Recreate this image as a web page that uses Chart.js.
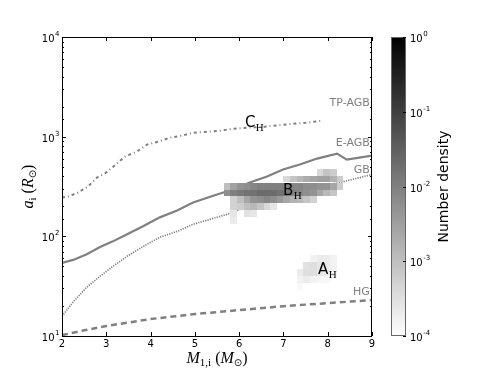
<!DOCTYPE html>
<html>
<head>
<meta charset="utf-8">
<script src="https://cdn.jsdelivr.net/npm/chart.js@4.4.0/dist/chart.umd.min.js"></script>
<style>body{margin:0;background:#fff}</style>
</head>
<body>
<canvas id="c" width="499" height="374"></canvas>
<script>
// boundary curves, mass (Msun) vs initial separation (Rsun)
const tpagbMass=[2.0,2.14,2.36,2.59,2.79,3.0,3.24,3.42,3.69,3.92,4.17,4.44,4.71,4.96,5.27,5.57,5.86,6.2,6.58,7.0,7.5,7.87];
const tpagbSep=[245,251,275,316,389,437,537,631,708,832,891,977,1023,1096,1122,1148,1202,1230,1259,1318,1380,1445];
const eagbMass=[2.0,2.25,2.56,2.86,3.15,3.47,3.83,4.21,4.6,4.96,5.5,5.86,6.24,6.63,6.99,7.37,7.76,8.21,8.43,9.0];
const eagbSep=[54,58,66,78,89,105,126,155,182,219,263,295,347,398,468,525,603,676,589,646];
const gbMass=[2.0,2.25,2.56,2.86,3.15,3.47,3.83,4.21,4.6,4.96,5.34,5.72,6.02,6.4,7.0,7.6,8.28,9.0];
const gbSep=[15.8,21.9,30.9,39.8,50,63,79,98,112,132,148,166,186,214,257,302,347,417];
const hgMass=[2.0,2.5,3.0,4.0,5.0,6.0,7.0,8.0,9.0];
const hgSep=[10.2,11.4,12.6,14.8,16.6,18.2,19.9,21.4,22.9];

// number density map: one row per separation bin (lower edge, Rsun),
// first mass bin (lower edge, Msun), then densities of consecutive mass bins
const heatRowSep=[407,347,295,251,214,182,155,132,55,46.8,39.8,33.9,28.8];
const heatRowMass=[7.75,7.00,5.65,5.65,5.80,5.80,5.80,5.80,7.60,7.45,7.30,7.30,7.30];
const heatRowDensity=[
  [4e-4,8e-4,6e-4],
  [4e-4,8e-4,1.3e-3,2e-3,2.5e-3,3e-3,3e-3,1.6e-3,6e-4],
  [1e-3,3e-3,5e-3,6e-3,8e-3,1e-2,1e-2,1e-2,1e-2,1e-2,8e-3,8e-3,6e-3,6e-3,5e-3,5e-3,2.5e-3,6e-4],
  [6e-3,1e-2,1.3e-2,1.6e-2,1.6e-2,2e-2,2e-2,2e-2,1.6e-2,1.3e-2,1e-2,8e-3,6e-3,5e-3,2.5e-3,1.3e-3,8e-4],
  [5e-4,1e-3,2.5e-3,5e-3,6e-3,8e-3,6e-3,4e-3,2.5e-3,1.6e-3,1.3e-3,8e-4,5e-4],
  [5e-4,6e-4,1e-3,1.3e-3,8e-4,4e-4,2.5e-4],
  [2.5e-4,0,3e-4,2.5e-4],
  [2e-4],
  [1.6e-4,2e-4,2e-4,1.6e-4],
  [3e-4,3.2e-4,2.5e-4,2e-4,1.6e-4],
  [2e-4,3.2e-4,3.2e-4,2.5e-4,2e-4,1.6e-4],
  [1.6e-4,2e-4,1.6e-4,1.3e-4,1.3e-4],
  [1.3e-4]
];
const binMass=0.15, binSepDex=0.07;

const yTickValues=[10,100,1000,10000];
const yTickExp=['1','2','3','4'];
const cbTickValues=[1e-4,1e-3,1e-2,1e-1,1];
const cbTickExp=['-4','-3','-2','-1','0'];

// curve labels and region labels (data coordinates)
const curveNames=['TP-AGB','E-AGB','GB','HG'];
const curveLabelSep=[2188,871,457,27.5];
const regionNames=['C','B','A'];
const regionMass=[6.13,6.99,7.78];
const regionSep=[1413,295,47];

const lineGray='#808080';
const sans='"DejaVu Sans", sans-serif';
const serif='"Liberation Serif", "DejaVu Serif", serif';

const grayFor=d=>{
  let t=(Math.log10(d)+4)/4;
  t=Math.max(0,Math.min(1,t));
  const g=Math.round(255*(1-t));
  return `rgb(${g},${g},${g})`;
};

const pts=(xs,ys)=>xs.map((m,i)=>({x:m,y:ys[i]}));

const drawRich=(ctx,x,y,parts)=>{
  let w=0;
  parts.forEach(p=>{ctx.font=p.f;w+=ctx.measureText(p.t).width;});
  let cx=x-w/2;
  ctx.textAlign='left';ctx.textBaseline='alphabetic';
  parts.forEach(p=>{ctx.font=p.f;ctx.fillText(p.t,cx,y+(p.dy||0));cx+=ctx.measureText(p.t).width;});
};

// "10" with a raised exponent; align 'right' ends at x, 'left' starts at x
const drawPow=(ctx,x,y,exp,align)=>{
  ctx.textBaseline='alphabetic';ctx.textAlign='left';
  ctx.font='10px '+sans;
  const w1=ctx.measureText('10').width;
  ctx.font='7px '+sans;
  const w2=ctx.measureText(exp).width;
  const x0=align==='right'?x-w1-w2:x;
  ctx.font='10px '+sans;ctx.fillText('10',x0,y+5);
  ctx.font='7px '+sans;ctx.fillText(exp,x0+w1+0.5,y-1);
};

const heatPlugin={
  id:'heat',
  afterDatasetsDraw(chart){
    const {ctx,chartArea:a,scales:{x,y}}=chart;
    ctx.save();
    ctx.beginPath();ctx.rect(a.left,a.top,a.right-a.left,a.bottom-a.top);ctx.clip();
    heatRowSep.forEach((s,r)=>{
      const yb=Math.round(y.getPixelForValue(s));
      const yt=Math.round(y.getPixelForValue(s*Math.pow(10,binSepDex)));
      heatRowDensity[r].forEach((d,k)=>{
        if(!d) return;
        const m=heatRowMass[r]+k*binMass;
        const xl=Math.round(x.getPixelForValue(m));
        const xr=Math.round(x.getPixelForValue(m+binMass));
        ctx.fillStyle=grayFor(d);
        ctx.fillRect(xl,yt,xr-xl,yb-yt);
      });
    });
    // region labels
    ctx.fillStyle='#000';
    regionNames.forEach((n,i)=>{
      const px=x.getPixelForValue(regionMass[i]);
      const py=y.getPixelForValue(regionSep[i]);
      ctx.font='15px '+sans;ctx.textAlign='left';ctx.textBaseline='alphabetic';
      ctx.fillText(n,px,py+5);
      const w=ctx.measureText(n).width;
      ctx.font='11px '+serif;
      ctx.fillText('H',px+w+0.5,py+9);
    });
    // curve labels
    ctx.fillStyle=lineGray;ctx.font='11px '+sans;ctx.textAlign='right';ctx.textBaseline='middle';
    curveNames.forEach((n,i)=>{
      ctx.fillText(n,x.getPixelForValue(8.95),y.getPixelForValue(curveLabelSep[i]));
    });
    ctx.restore();
  },
  afterDraw(chart){
    const {ctx,chartArea:a,scales:{x,y,cb}}=chart;
    ctx.save();
    // frame
    ctx.strokeStyle='#000';ctx.lineWidth=1;
    ctx.strokeRect(a.left+0.5,a.top+0.5,a.right-a.left-1,a.bottom-a.top);
    // inner ticks
    ctx.beginPath();
    x.ticks.forEach(t=>{
      const px=Math.round(x.getPixelForValue(t.value))+0.5;
      ctx.moveTo(px,a.bottom);ctx.lineTo(px,a.bottom-4);
      ctx.moveTo(px,a.top);ctx.lineTo(px,a.top+4);
    });
    y.ticks.forEach(t=>{
      const l=Math.log10(t.value);
      const len=Math.abs(l-Math.round(l))<1e-6?4:2;
      const py=Math.round(y.getPixelForValue(t.value))+0.5;
      ctx.moveTo(a.left,py);ctx.lineTo(a.left+len,py);
      ctx.moveTo(a.right,py);ctx.lineTo(a.right-len,py);
    });
    ctx.stroke();
    ctx.fillStyle='#000';
    yTickValues.forEach((v,i)=>drawPow(ctx,a.left-3,y.getPixelForValue(v),yTickExp[i],'right'));
    // colour bar
    const cbL=391,cbR=406;
    const top=cb.getPixelForValue(1),bot=cb.getPixelForValue(1e-4);
    const g=ctx.createLinearGradient(0,top,0,bot);
    g.addColorStop(0,'#000');g.addColorStop(1,'#fff');
    ctx.fillStyle=g;ctx.fillRect(cbL,top,cbR-cbL,bot-top);
    ctx.strokeStyle='#666';ctx.strokeRect(cbL+0.5,top+0.5,cbR-cbL-1,bot-top-1);
    ctx.strokeStyle='#000';ctx.beginPath();
    cbTickValues.forEach(v=>{
      const py=Math.round(cb.getPixelForValue(v))+0.5;
      ctx.moveTo(cbR,py);ctx.lineTo(cbR-3,py);
    });
    ctx.stroke();
    ctx.fillStyle='#000';
    cbTickValues.forEach((v,i)=>drawPow(ctx,cbR+4,cb.getPixelForValue(v),cbTickExp[i],'left'));
    ctx.save();
    ctx.translate(448,(top+bot)/2);ctx.rotate(-Math.PI/2);
    ctx.font='14px '+sans;ctx.textAlign='center';ctx.textBaseline='alphabetic';
    ctx.fillText('Number density',0,0);
    ctx.restore();
    // axis titles
    drawRich(ctx,(a.left+a.right)/2,363,[
      {t:'M',f:'italic 16px '+serif},
      {t:'1,i',f:'11px '+serif,dy:3},
      {t:' (',f:'16px '+serif},
      {t:'M',f:'italic 16px '+serif},
      {t:'⊙',f:'10px "DejaVu Sans"',dy:3},
      {t:')',f:'16px '+serif}
    ]);
    ctx.save();
    ctx.translate(33,(a.top+a.bottom)/2);ctx.rotate(-Math.PI/2);
    drawRich(ctx,0,0,[
      {t:'a',f:'italic 16px '+serif},
      {t:'i',f:'11px '+serif,dy:3},
      {t:' (',f:'16px '+serif},
      {t:'R',f:'italic 16px '+serif},
      {t:'⊙',f:'10px "DejaVu Sans"',dy:3},
      {t:')',f:'16px '+serif}
    ]);
    ctx.restore();
    ctx.restore();
  }
};

const lineSet=(data,dash,w)=>({
  data,showLine:true,borderColor:lineGray,borderWidth:w,borderDash:dash,
  pointRadius:0,fill:false,tension:0
});

new Chart(document.getElementById('c'),{
  type:'scatter',
  data:{datasets:[
    lineSet(pts(tpagbMass,tpagbSep),[3,3,1,3],2),
    lineSet(pts(eagbMass,eagbSep),[],2.2),
    lineSet(pts(gbMass,gbSep),[1.2,1.2],1.7),
    lineSet(pts(hgMass,hgSep),[6,4],2.5)
  ]},
  options:{
    responsive:false,animation:false,
    layout:{padding:{top:37,left:0,right:0,bottom:0}},
    plugins:{legend:{display:false},tooltip:{enabled:false}},
    scales:{
      x:{type:'linear',min:2,max:9,
        grid:{display:false,drawTicks:false,tickLength:0},border:{display:false},
        ticks:{stepSize:1,padding:2,color:'#000',font:{family:'DejaVu Sans',size:10}},
        afterFit:s=>{s.height=38;}},
      y:{type:'logarithmic',min:10,max:10000,
        grid:{display:false,drawTicks:false,tickLength:0},border:{display:false},
        ticks:{display:false},
        afterFit:s=>{s.width=62;}},
      cb:{axis:'y',type:'logarithmic',position:'right',min:1e-4,max:1,
        grid:{display:false,drawTicks:false,tickLength:0},border:{display:false},
        ticks:{display:false},
        afterFit:s=>{s.width=127;}}
    }
  },
  plugins:[heatPlugin]
});
</script>
</body>
</html>
